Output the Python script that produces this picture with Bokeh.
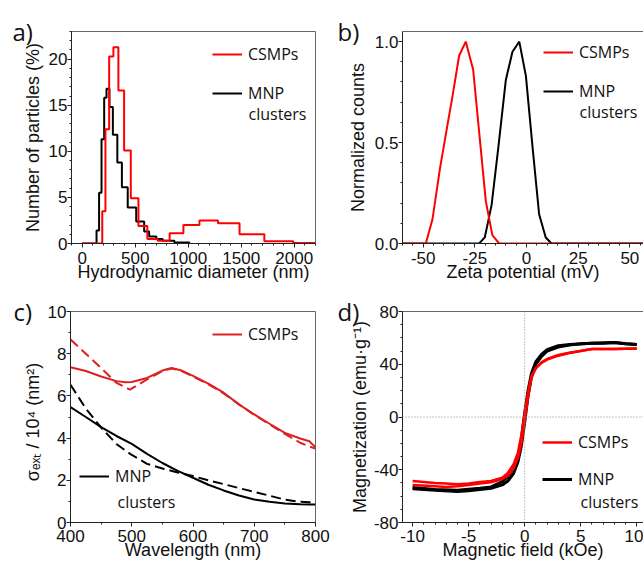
import math
from bokeh.plotting import figure
from bokeh.models import (Range1d, SingleIntervalTicker, FixedTicker, LinearAxis, Label, Legend,
                          LegendItem, Span, NumeralTickFormatter)
from bokeh.layouts import column, row
from bokeh.embed import file_html
from bokeh.resources import INLINE

# ---------------- data ----------------
# a) DLS size distributions (step histograms: bin left edges, % in bin)
a_mnp_edges = [0, 136, 160, 183, 208, 230, 258, 290, 332, 375, 430, 510, 585, 632, 700, 760, 870, 1010]
a_mnp_pct = [0, 1.4, 5.5, 11.3, 15.8, 16.8, 14.8, 11.8, 8.8, 6.1, 3.9, 2.4, 1.3, 0.75, 0.5, 0.3, 0.1, 0]
a_csmp_edges = [0, 190, 220, 255, 295, 342, 396, 459, 531, 615, 712, 825, 955, 1106, 1281, 1484, 1718, 1990, 2200]
a_csmp_pct = [0, 3.5, 12.4, 20.3, 21.3, 16.6, 10.1, 4.9, 1.9, 0.5, 0.3, 1.1, 2.0, 2.5, 2.2, 1.0, 0.25, 0.05, 0.05]

# b) zeta potential distributions
b_csmp_mv = [-60, -48.7, -45.5, -41.9, -38.7, -35.8, -32.6, -29.4, -25.8, -22.9, -19.7, -16.5, -13.2, 57]
b_csmp_cnt = [0, 0, 0.12, 0.37, 0.56, 0.73, 0.93, 1.0, 0.86, 0.55, 0.21, 0.04, 0, 0]
b_mnp_mv = [-60, -22.9, -20.2, -16.9, -13.7, -10.0, -6.8, -3.5, -0.3, 2.9, 6.1, 9.3, 12.1, 57]
b_mnp_cnt = [0, 0, 0.03, 0.19, 0.47, 0.81, 0.95, 1.0, 0.83, 0.48, 0.145, 0.03, 0, 0]

# c) extinction cross sections (measured solid, model dashed)
c_csmp_wl = [400, 425, 450, 475, 490, 500, 525, 550, 565, 580, 600, 625, 650, 675, 700, 725, 750, 775, 790, 800]
c_csmp_exp = [7.36, 7.18, 6.92, 6.70, 6.65, 6.66, 6.85, 7.20, 7.32, 7.22, 6.95, 6.58, 6.15, 5.60, 5.12, 4.68, 4.25, 3.98, 3.85, 3.56]
c_csmp_fit_wl = [400, 425, 450, 475, 497, 525, 550, 565, 580, 600, 625, 650, 675, 700, 725, 750, 775, 790, 800]
c_csmp_fit = [8.67, 8.00, 7.32, 6.62, 6.30, 6.78, 7.18, 7.30, 7.20, 6.92, 6.55, 6.12, 5.60, 5.10, 4.65, 4.20, 3.78, 3.60, 3.50]
c_mnp_wl = [400, 425, 450, 475, 500, 525, 550, 575, 600, 625, 650, 675, 700, 725, 750, 775, 790, 800]
c_mnp_exp = [5.47, 5.00, 4.52, 4.10, 3.73, 3.25, 2.82, 2.45, 2.12, 1.79, 1.52, 1.28, 1.09, 0.98, 0.90, 0.86, 0.85, 0.85]
c_mnp_fit = [6.53, 5.40, 4.50, 3.72, 3.20, 2.78, 2.56, 2.37, 2.20, 2.00, 1.82, 1.63, 1.45, 1.27, 1.08, 0.98, 0.96, 0.95]

# d) hysteresis loops (ascending and descending branches)
d_csmp_h_up = [-10, -8, -7, -6, -5, -4, -3, -2, -1.5, -1, -0.6, -0.3, 0, 0.3, 0.6, 1, 1.5, 2, 3, 4, 5, 6, 8, 10]
d_csmp_m_up = [-51.5, -52.5, -53, -52.5, -51.5, -50.5, -49.5, -47, -44.5, -39, -31, -20, -3, 15, 30, 37, 41, 43.5, 46.5, 48.5, 50, 51.5, 51.5, 52]
d_csmp_h_dn = [10, 8, 6, 4, 3, 2, 1.5, 1, 0.6, 0.3, 0, -0.3, -0.6, -1, -1.5, -2, -3, -4, -5, -6, -7, -8, -10]
d_csmp_m_dn = [52, 51.5, 51.5, 48.8, 47, 44, 41.5, 37, 31, 19, 3, -14, -27, -36, -42.5, -46, -48.5, -49.2, -50.5, -51, -50.5, -50, -48.5]
d_mnp_h_up = [-10, -8, -6, -5, -4, -3, -2, -1.5, -1, -0.6, -0.3, 0, 0.3, 0.6, 1, 1.5, 2, 3, 4, 5, 6, 7, 8, 9, 10]
d_mnp_m_up = [-54.5, -55.5, -56.5, -56, -55, -54, -51.5, -48.5, -43, -34, -22, -4, 16, 30, 40, 46, 50, 53, 54.5, 55.5, 56, 56, 56.5, 55.5, 55]
d_mnp_h_dn = [10, 9, 8, 6, 4, 3, 2, 1.5, 1, 0.6, 0.3, 0, -0.3, -0.6, -1, -1.5, -2, -3, -4, -6, -8, -10]
d_mnp_m_dn = [55, 55.5, 56.5, 56, 55, 54, 51, 47.5, 42, 33, 20, 3, -17, -30, -39, -45, -49, -53, -54, -55.5, -55, -53.5]

RED = "#ff0000"
RED_C = "#dd2020"
BLACK = "#000000"
TICK_FONT = "Liberation Sans"
LEG_FONT = "Open Sans"


def make_fig(w, h, xr, yr, bl, br, bt, bb, xint, xminor, yint, yminor,
             xtitle, ytitle, x_lab_so, x_title_so, y_title_so, letter, letter_offset,
             letter_standoff, open_right=False):
    p = figure(width=w, height=h, x_range=Range1d(*xr), y_range=Range1d(*yr),
               output_backend="svg", toolbar_location=None,
               min_border_left=bl, min_border_right=br, min_border_top=bt, min_border_bottom=bb)
    p.grid.visible = False
    p.background_fill_color = "white"
    p.border_fill_color = "white"
    p.xaxis.ticker = SingleIntervalTicker(interval=xint, num_minor_ticks=xminor)
    p.yaxis.ticker = SingleIntervalTicker(interval=yint, num_minor_ticks=yminor)
    p.xaxis.axis_label = xtitle
    p.yaxis.axis_label = ytitle
    for ax in (p.xaxis, p.yaxis):
        ax.major_label_text_font = TICK_FONT
        ax.major_label_text_font_size = "17px"
        ax.major_label_text_color = "#111111"
        ax.axis_label_text_font = TICK_FONT
        ax.axis_label_text_font_size = "18px"
        ax.axis_label_text_font_style = "normal"
        ax.axis_label_text_color = "#111111"
        ax.axis_line_color = "#222222"
        ax.major_tick_line_color = "#222222"
        ax.minor_tick_line_color = "#222222"
        ax.major_tick_out = 4
        ax.major_tick_in = 0
        ax.minor_tick_out = 2
        ax.minor_tick_in = 0
    p.xaxis.major_label_standoff = x_lab_so
    p.xaxis.axis_label_standoff = x_title_so
    p.yaxis.major_label_standoff = 0
    p.yaxis.axis_label_standoff = y_title_so
    # panel letter as a left-aligned title pulled into the left margin
    p.title.text = letter
    p.title.align = "left"
    p.title.offset = letter_offset
    p.title.standoff = letter_standoff
    p.title.text_font = LEG_FONT
    p.title.text_font_size = "24px"
    p.title.text_font_style = "normal"
    p.title.text_color = "#111111"
    if open_right:
        p.outline_line_color = None
        top = LinearAxis(ticker=FixedTicker(ticks=[]), major_tick_line_color=None,
                         minor_tick_line_color=None, axis_line_color="#666666")
        p.add_layout(top, "above")
    else:
        p.outline_line_color = "#666666"
    return p


def lab(p, x, y, text):
    p.add_layout(Label(x=x, y=y, x_units="screen", y_units="screen", text=text,
                       text_font=LEG_FONT, text_font_size="16px", text_align="left",
                       text_baseline="middle", text_color="#111111"))


def legend(p, items, loc, spacing):
    leg = Legend(items=[LegendItem(label=t, renderers=[r]) for t, r in items], location=loc,
                 orientation="vertical", spacing=spacing, padding=0, margin=0,
                 glyph_width=30, glyph_height=20, label_height=20, label_standoff=6,
                 label_text_font=LEG_FONT, label_text_font_size="16px",
                 label_text_color="#111111",
                 border_line_color=None, background_fill_alpha=0)
    p.add_layout(leg)


# ---------------- a) ----------------
pa = make_fig(330, 290, (-100, 2200), (0, 23), 71, 15, 31, 47, 500, 5, 5, 5,
              "Hydrodynamic diameter (nm)", "Number of particles (%)", 4, -5, 3,
              "a)", -59, -33)
ra_b = pa.step(a_mnp_edges, a_mnp_pct, mode="after", line_color=BLACK, line_width=2)
ra_r = pa.step(a_csmp_edges, a_csmp_pct, mode="after", line_color=RED, line_width=2)
legend(pa, [("CSMPs", ra_r), ("MNP", ra_b)], (141, 139), 17)
lab(pa, 177, 130, "clusters")

# ---------------- b) ----------------
pb = make_fig(313, 290, (-60, 56.6), (0, 1.05), 72, 0, 31, 47, 25, 5, 0.5, 5,
              "Zeta potential (mV)", "Normalized counts", 4, -5, 4,
              "b)", -65, -33, open_right=True)
pb.yaxis.formatter = NumeralTickFormatter(format="0.0")
pb.xaxis.formatter = NumeralTickFormatter(format="0")
rb_b = pb.line(b_mnp_mv, b_mnp_cnt, line_color=BLACK, line_width=2)
rb_r = pb.line(b_csmp_mv, b_csmp_cnt, line_color=RED, line_width=2)
legend(pb, [("CSMPs", rb_r), ("MNP", rb_b)], (141, 141), 17)
lab(pb, 177, 132, "clusters")

# ---------------- c) ----------------
pc = make_fig(330, 272, (400, 800), (0, 10), 70, 15, 21, 38, 100, 2, 2, 2,
              "Wavelength (nm)", "σₑₓₜ / 10⁴   (nm²)", 3, -5, 2,
              "c)", -57, -33)
pc.line(c_mnp_wl, c_mnp_fit, line_color=BLACK, line_width=2, line_dash="10 5")
rc_b = pc.line(c_mnp_wl, c_mnp_exp, line_color=BLACK, line_width=2)
pc.line(c_csmp_fit_wl, c_csmp_fit, line_color=RED_C, line_width=2, line_dash="10 5")
rc_r = pc.line(c_csmp_wl, c_csmp_exp, line_color=RED_C, line_width=2)
legend(pc, [("CSMPs", rc_r)], (142, 177), 0)
legend(pc, [("MNP", rc_b)], (9, 35), 0)
lab(pc, 47, 21, "clusters")

# ---------------- d) ----------------
pd = make_fig(313, 272, (-10.9, 10.6), (-80, 80), 72, 0, 21, 38, 5, 5, 40, 4,
              "Magnetic field (kOe)", "Magnetization (emu·g⁻¹)", 3, -5, 1,
              "d)", -65, -33, open_right=True)
pd.xaxis.formatter = NumeralTickFormatter(format="0")
pd.yaxis.formatter = NumeralTickFormatter(format="0")
zero_ref = 0
pd.add_layout(Span(location=zero_ref, dimension="height", line_color="#888888", line_width=1, line_dash="1 2"))
pd.add_layout(Span(location=zero_ref, dimension="width", line_color="#888888", line_width=1, line_dash="1 2"))
rd_b = pd.line(d_mnp_h_up, d_mnp_m_up, line_color=BLACK, line_width=3)
pd.line(d_mnp_h_dn, d_mnp_m_dn, line_color=BLACK, line_width=3)
rd_r = pd.line(d_csmp_h_up, d_csmp_m_up, line_color=RED, line_width=2.5)
pd.line(d_csmp_h_dn, d_csmp_m_dn, line_color=RED, line_width=2.5)
legend(pd, [("CSMPs", rd_r), ("MNP", rd_b)], (140, 32), 15)
lab(pd, 178, 21, "clusters")

layout = column(row(pa, pb), row(pc, pd))
open("out.html", "w").write(file_html(layout, INLINE))
